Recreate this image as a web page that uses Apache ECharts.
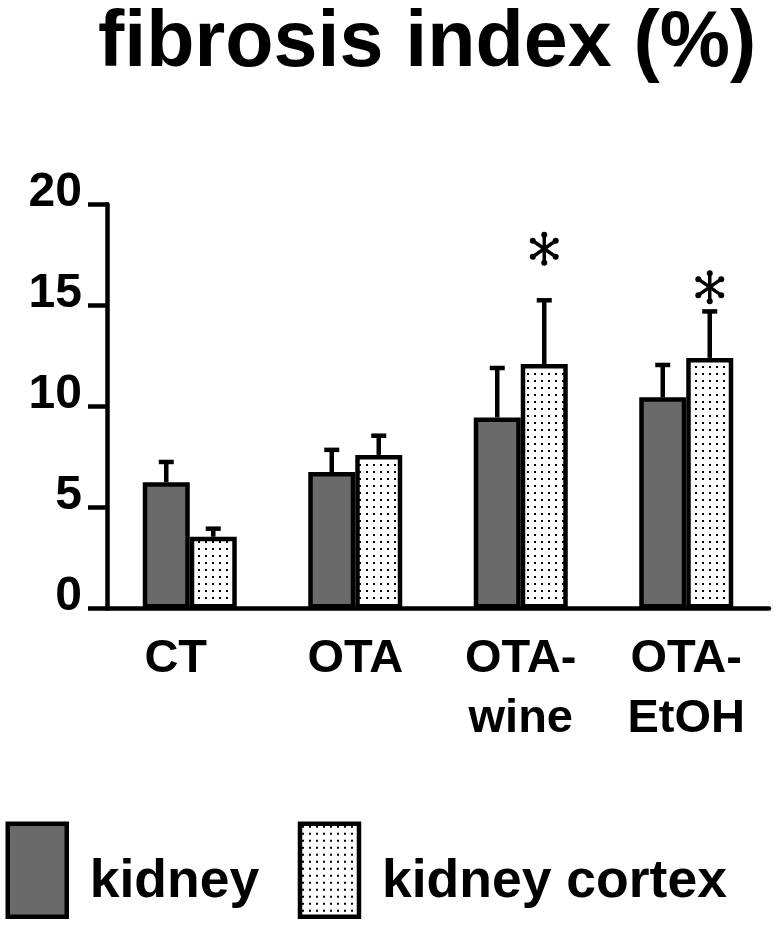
<!DOCTYPE html>
<html>
<head>
<meta charset="utf-8">
<script src="https://cdn.jsdelivr.net/npm/echarts@6/dist/echarts.min.js"></script>
<style>
html,body{margin:0;padding:0;background:#fff;}
#chart{width:781px;height:933px;}
</style>
</head>
<body>
<div id="chart"></div>
<script>
// ---- data ----
const categories = ['CT', 'OTA', 'OTA-\nwine', 'OTA-\nEtOH'];
const kidneyMean = [6.25, 6.75, 9.45, 10.45];
const kidneySem  = [1.0, 1.1, 2.45, 1.6];
const cortexMean = [3.55, 7.6, 12.1, 12.4];
const cortexSem  = [0.4, 0.95, 3.15, 2.3];
const sigIndex   = [2, 3];        // categories marked with *
const sigLevel   = [17.8, 15.9];  // height of the * marks
const yMin = 0, yMax = 20, yStep = 5;

// ---- styles ----
const FONT = '"Liberation Sans", Arial, sans-serif';
const BAR_W = 47;
const BORDER = 4.5;

function dotPattern() {
  const c = document.createElement('canvas');
  c.width = 7; c.height = 7;
  const g = c.getContext('2d');
  g.fillStyle = '#fff';
  g.fillRect(0, 0, 7, 7);
  g.fillStyle = '#000';
  g.fillRect(2, 2, 2, 2);
  return c;
}
const dotted = { image: dotPattern(), repeat: 'repeat' };

const chart = echarts.init(document.getElementById('chart'), null, { renderer: 'canvas' });

function errData(means, sems) {
  return means.map((m, i) => [i, m, sems[i]]);
}

function errRender(side) {
  return function (params, api) {
    const i = api.value(0), m = api.value(1), e = api.value(2);
    const p0 = api.coord([i, m]);
    const p1 = api.coord([i, m + e]);
    const x = p0[0] + side * BAR_W / 2;
    return {
      type: 'group',
      children: [
        { type: 'line', shape: { x1: x, y1: p0[1], x2: x, y2: p1[1] },
          style: { stroke: '#000', lineWidth: 4.5 } },
        { type: 'line', shape: { x1: x - 7.5, y1: p1[1], x2: x + 7.5, y2: p1[1] },
          style: { stroke: '#000', lineWidth: 4.5 } }
      ]
    };
  };
}

function starRender(params, api) {
  const i = api.value(0), v = api.value(1);
  const p = api.coord([i, v]);
  const cx = p[0] + BAR_W / 2, cy = p[1];
  const r = 14;
  const angles = [90, 270, 35, 145, 215, 325];
  const children = [];
  angles.forEach(a => {
    const rad = a * Math.PI / 180;
    const ex = cx + r * Math.cos(rad), ey = cy - r * Math.sin(rad);
    children.push({ type: 'line', shape: { x1: cx, y1: cy, x2: ex, y2: ey },
      style: { stroke: '#000', lineWidth: 3.5 } });
    children.push({ type: 'circle', shape: { cx: ex, cy: ey, r: 3 },
      style: { fill: '#000' } });
  });
  return { type: 'group', children };
}

const option = {
  backgroundColor: '#fff',
  animation: false,
  title: {
    text: 'fibrosis index (%)',
    left: 93, top: 0,
    textStyle: { fontFamily: FONT, fontSize: 79, fontWeight: 'bold', color: '#000' }
  },
  legend: {
    left: 5.5, top: 821.5, padding: 0,
    icon: 'rect',
    itemWidth: 59, itemHeight: 93,
    itemGap: 38.5,
    itemStyle: { borderColor: '#000', borderWidth: BORDER },
    textStyle: { fontFamily: FONT, fontSize: 53.5, fontWeight: 'bold', color: '#000',
                 lineHeight: 54, verticalAlign: 'middle',
                 rich: { t: { fontFamily: FONT, fontSize: 53.5, fontWeight: 'bold', color: '#000',
                              lineHeight: 54, padding: [24, 0, 0, 18] } } },
    formatter: name => '{t|' + name + '}',
    data: ['kidney', 'kidney cortex']
  },
  grid: { left: 107, right: 12, top: 204.3, bottom: 324.5, containLabel: false },
  xAxis: {
    type: 'category',
    data: categories,
    axisLine: { lineStyle: { color: '#000', width: 4.5 } },
    axisTick: { show: false },
    axisLabel: {
      interval: 0, margin: 21,
      fontFamily: FONT, fontSize: 47, fontWeight: 'bold', color: '#000', lineHeight: 60,
      formatter: v => v === 'CT' ? '{ct|CT}' : v,
      rich: { ct: { fontFamily: FONT, fontSize: 47, fontWeight: 'bold', color: '#000',
                    lineHeight: 60, padding: [0, 28, 0, 0] } }
    }
  },
  yAxis: {
    type: 'value',
    min: yMin, max: yMax, interval: yStep,
    splitLine: { show: false },
    axisLine: { show: true, lineStyle: { color: '#000', width: 4.5 } },
    axisTick: { show: true, length: 19, lineStyle: { color: '#000', width: 4.5 } },
    axisLabel: { margin: 25, fontFamily: FONT, fontSize: 48, fontWeight: 'bold', color: '#000',
                 verticalAlign: 'bottom', lineHeight: 24 }
  },
  series: [
    {
      name: 'kidney', type: 'bar', data: kidneyMean,
      barWidth: BAR_W, barGap: '0%',
      itemStyle: { color: '#6a6a6a', borderColor: '#000', borderWidth: BORDER },
      z: 2
    },
    {
      name: 'kidney cortex', type: 'bar', data: cortexMean,
      barWidth: BAR_W, barGap: '0%',
      itemStyle: { color: dotted, borderColor: '#000', borderWidth: BORDER },
      z: 2
    },
    {
      type: 'custom', name: 'kidney err', data: errData(kidneyMean, kidneySem),
      renderItem: errRender(-1), z: 3, silent: true
    },
    {
      type: 'custom', name: 'cortex err', data: errData(cortexMean, cortexSem),
      renderItem: errRender(1), z: 3, silent: true
    },
    {
      type: 'custom', name: 'sig', data: sigIndex.map((c, k) => [c, sigLevel[k]]),
      renderItem: starRender, z: 3, silent: true
    }
  ]
};
chart.setOption(option);
</script>
</body>
</html>
